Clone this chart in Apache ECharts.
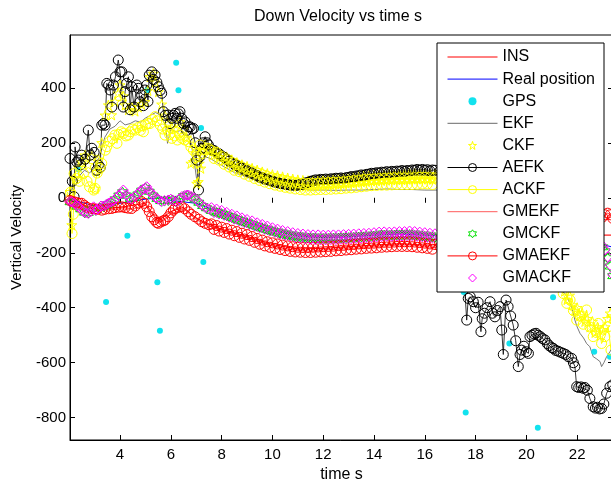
<!DOCTYPE html>
<html>
<head>
<meta charset="utf-8">
<script src="https://cdn.jsdelivr.net/npm/echarts@6/dist/echarts.min.js"></script>
<style>
html,body{margin:0;padding:0;background:#fff;}
#chart{width:611px;height:479px;}
</style>
</head>
<body>
<div id="chart"></div>
<script>
// Tick positions
const xTicks = [4, 6, 8, 10, 12, 14, 16, 18, 20, 22];
const yTicks = [-800, -600, -400, -200, 0, 200, 400];

// Shared time grid for the smooth middle stretch (s)
const timeMid = [
  7.6,7.7,7.8,7.9,
  8.0,8.1,8.2,8.3,8.4,8.5,8.6,8.7,8.8,8.9,
  9.0,9.1,9.2,9.3,9.4,9.5,9.6,9.7,9.8,9.9,
  10.0,10.1,10.2,10.3,10.4,10.5,10.6,10.7,10.8,10.9,
  11.0,11.1,11.2,11.3,11.4,11.5,11.6,11.7,11.8,11.9,
  12.0,12.1,12.2,12.3,12.4,12.5,12.6,12.7,12.8,12.9,
  13.0,13.1,13.2,13.3,13.4,13.5,13.6,13.7,13.8,13.9,
  14.0,14.1,14.2,14.3,14.4,14.5,14.6,14.7,14.8,14.9,
  15.0,15.1,15.2,15.3,15.4,15.5,15.6,15.7,15.8,15.9,
  16.0,16.1,16.2,16.3,16.4
];

// INS
const insPts = [[2.03,-10],[3.0,-40],[4.0,-35],[5.0,-20],[5.5,-85],[6.0,-50],[6.5,-35],[7.0,-75],[8.0,-115],[9.0,-140],[10.0,-170],[11.0,-186],[12.0,-184],[13.0,-178],[14.0,-172],[15.0,-167],[16.0,-172],[17.0,-170],[18.0,-165],[19.0,-160],[20.0,-150],[21.0,-140],[22.0,-136],[23.0,-136],[23.41,-136]];

// Real position
const realPts = [[2.03,-5],[3.0,-30],[4.0,-20],[5.0,-5],[5.6,0],[5.8,-2],[6.0,-10],[7.0,-20],[8.0,-55],[9.0,-88],[10.0,-118],[11.0,-139],[12.0,-145],[13.0,-142],[14.0,-136],[15.0,-132],[16.0,-136],[17.0,-140],[18.0,-145],[19.0,-150],[20.0,-150],[21.0,-155],[22.0,-160],[23.0,-170],[23.41,-180]];

// GPS fixes
const gpsPts = [[2.37,103],[3.45,-379],[4.29,-138],[5.07,391],[5.47,-307],[5.57,-484],[6.21,491],[6.30,391],[7.19,254],[7.28,-234],[17.53,-343],[17.61,-781],[19.33,-530],[20.45,-836],[21.05,-362],[22.67,-560],[23.29,-578]];

// EKF
const ekfPts = [[2.03,10],[2.2,60],[2.4,80],[2.6,100],[2.8,90],[3.0,110],[3.2,150],[3.4,220],[3.6,250],[3.8,260],[4.0,280],[4.2,265],[4.4,270],[4.6,280],[4.8,275],[5.0,290],[5.2,300],[5.4,310],[5.6,300],[5.8,260],[5.87,198],[6.0,250],[6.2,240],[6.4,245],[6.6,230],[6.8,200],[6.95,112],[7.05,45],[7.15,110],[7.3,150],[7.5,145],[7.6,140],[8.0,118],[8.5,92],[9.0,75],[9.5,58],[10.0,48],[10.5,40],[11.0,33],[11.5,28],[12.0,28],[12.5,27],[13.0,28],[13.5,28],[14.0,30],[14.5,32],[15.0,30],[15.5,30],[16.0,28],[16.5,28],[17.0,0],[18.0,-80],[19.0,-180],[20.0,-260],[21.0,-320],[21.52,-348],[21.65,-370],[21.78,-396],[21.91,-445],[22.0,-470],[22.11,-493],[22.25,-510],[22.37,-530],[22.5,-542],[22.63,-578],[22.75,-585],[22.9,-596],[22.96,-614],[23.05,-600],[23.16,-578],[23.29,-560],[23.41,-540]];

// CKF
const ckfEarly = [[2.03,22],[2.1,-99],[2.16,-30],[2.23,70],[2.36,110],[2.49,130],[2.62,155],[2.75,120],[2.89,150],[3.02,34],[3.08,95],[3.15,140],[3.28,200],[3.41,300],[3.54,337],[3.67,301],[3.8,350],[3.93,380],[4.0,410],[4.13,370],[4.2,337],[4.33,320],[4.46,330],[4.59,315],[4.72,330],[4.85,340],[4.98,349],[5.1,390],[5.18,440],[5.31,452],[5.38,420],[5.51,385],[5.64,340],[5.77,300],[5.9,270],[6.04,255],[6.17,250],[6.36,276],[6.5,250],[6.62,220],[6.79,125],[6.89,131],[6.96,180],[7.02,52],[7.08,58],[7.12,125],[7.18,107],[7.25,170],[7.35,192],[7.48,175]];
const ckfMid = [
  178,156,170,149,
  158,135,149,127,138,112,128,106,120,98,
  114,92,107,85,101,78,94,72,88,66,
  84,62,80,58,76,54,72,50,68,46,
  65,44,63,42,62,42,63,43,65,45,
  66,46,68,48,69,50,71,51,72,53,
  74,54,75,56,77,58,79,59,80,61,
  82,62,83,63,84,64,85,65,85,66,
  86,66,87,67,88,68,88,68,88,68,
  88,68,87,67,86
];
const ckfLate = [[16.6,80],[17.0,60],[18.0,-10],[19.0,-110],[20.0,-210],[21.0,-300],[21.5,-340],[21.6,-370],[21.7,-355],[21.8,-390],[21.9,-410],[22.0,-400],[22.1,-430],[22.2,-420],[22.3,-450],[22.4,-440],[22.5,-470],[22.6,-450],[22.7,-490],[22.8,-470],[22.9,-500],[23.0,-480],[23.1,-470],[23.2,-440],[23.3,-420],[23.4,-430]];

// AEFK
const aefkEarly = [[2.03,143],[2.12,60],[2.19,4],[2.23,185],[2.3,130],[2.36,137],[2.45,120],[2.49,155],[2.62,140],[2.75,246],[2.82,155],[2.89,180],[2.98,165],[3.08,100],[3.15,119],[3.22,110],[3.28,264],[3.35,270],[3.41,264],[3.48,416],[3.55,410],[3.61,392],[3.68,330],[3.74,410],[3.82,440],[3.93,501],[4.0,458],[4.07,458],[4.13,330],[4.2,386],[4.26,416],[4.33,440],[4.4,320],[4.46,404],[4.55,330],[4.66,410],[4.72,398],[4.79,349],[4.85,373],[4.92,335],[4.98,392],[5.05,410],[5.1,350],[5.15,446],[5.25,458],[5.31,430],[5.38,446],[5.45,420],[5.51,404],[5.58,390],[5.64,380],[5.71,313],[5.78,300],[5.9,301],[5.97,270],[6.04,289],[6.1,300],[6.17,307],[6.23,289],[6.3,305],[6.36,313],[6.43,289],[6.5,270],[6.56,276],[6.62,245],[6.69,258],[6.76,258],[6.83,250],[6.89,252],[6.96,200],[7.02,137],[7.09,28],[7.15,150],[7.22,180],[7.28,200],[7.35,222],[7.42,200],[7.48,192]];
const aefkMid = [
  175,172,165,160,
  152,147,140,133,128,121,118,111,108,101,
  98,93,90,84,80,75,72,68,66,62,
  60,57,55,52,51,49,48,46,46,45,
  46,48,50,54,56,60,62,65,64,67,
  66,68,66,69,68,71,70,72,70,73,
  74,77,76,79,80,83,82,85,86,89,
  88,91,90,93,92,95,92,96,94,97,
  96,99,96,99,98,101,100,103,100,103,
  100,102,98,101,100
];
const aefkLate = [[16.6,98],[16.8,95],[17.0,60],[17.2,-90],[17.4,-230],[17.55,-300],[17.65,-445],[17.71,-366],[17.79,-360],[17.91,-378],[18.0,-400],[18.1,-380],[18.21,-487],[18.26,-440],[18.35,-420],[18.45,-400],[18.57,-378],[18.66,-420],[18.76,-433],[18.86,-410],[18.96,-396],[19.03,-481],[19.09,-570],[19.2,-372],[19.28,-396],[19.38,-430],[19.48,-463],[19.58,-520],[19.68,-614],[19.75,-570],[19.81,-554],[19.9,-540],[20.0,-560],[20.08,-566],[20.14,-505],[20.22,-500],[20.3,-495],[20.38,-493],[20.46,-500],[20.55,-505],[20.63,-512],[20.73,-517],[20.82,-530],[20.9,-538],[21.0,-545],[21.06,-548],[21.15,-555],[21.25,-558],[21.35,-562],[21.45,-566],[21.55,-570],[21.65,-578],[21.78,-584],[21.85,-600],[21.91,-614],[21.98,-687],[22.06,-690],[22.15,-688],[22.24,-693],[22.3,-690],[22.4,-700],[22.5,-730],[22.63,-760],[22.72,-765],[22.8,-762],[22.88,-768],[22.96,-766],[23.05,-750],[23.16,-711],[23.29,-687],[23.4,-680]];

// ACKF
const ackfEarly = [[2.05,20],[2.11,-130],[2.16,-60],[2.19,88],[2.29,70],[2.4,60],[2.56,88],[2.7,60],[2.8,40],[2.96,28],[3.02,34],[3.1,90],[3.21,107],[3.28,125],[3.42,173],[3.48,186],[3.6,205],[3.7,215],[3.8,228],[3.88,198],[3.95,230],[4.05,240],[4.13,234],[4.23,225],[4.33,228],[4.4,240],[4.5,250],[4.59,246],[4.7,255],[4.8,245],[4.87,262],[4.92,240],[5.0,265],[5.1,270],[5.18,270],[5.28,285],[5.38,295],[5.45,280],[5.58,264],[5.68,250],[5.77,228],[5.87,246],[5.95,230],[6.04,216],[6.15,225],[6.26,210],[6.36,228],[6.45,215],[6.55,210],[6.69,204],[6.79,185],[6.89,173],[7.0,160],[7.08,150],[7.15,192],[7.25,161],[7.35,175],[7.48,180]];
const ackfMid = [
  172,143,165,137,
  150,122,141,112,129,100,120,95,112,86,
  104,78,96,70,90,63,84,57,78,51,
  72,46,68,42,64,38,60,35,57,32,
  54,30,52,28,52,28,52,29,53,30,
  54,30,55,31,56,32,57,33,58,35,
  60,36,62,38,64,40,66,42,67,44,
  68,45,69,46,70,46,71,47,72,48,
  72,48,72,48,72,48,73,49,74,50,
  74,50,73,48,72
];
const ackfLate = [[17.0,50],[18.0,-20],[19.0,-120],[20.0,-220],[21.0,-310],[21.45,-348],[21.59,-384],[21.72,-372],[21.85,-410],[21.98,-445],[22.11,-430],[22.24,-460],[22.37,-408],[22.5,-470],[22.63,-505],[22.75,-490],[22.83,-457],[22.96,-530],[23.09,-505],[23.22,-469],[23.33,-554],[23.45,-520]];

// GMEKF
const gmekfPts = [[2.03,-12],[2.5,-25],[3.0,-45],[3.5,-45],[4.0,-40],[4.5,-42],[5.0,-25],[5.5,-90],[6.0,-60],[6.5,-40],[7.0,-80],[7.5,-102],[8.0,-120],[8.5,-132],[9.0,-146],[9.5,-162],[10.0,-176],[10.5,-186],[11.0,-192],[11.5,-195],[12.0,-190],[12.5,-188],[13.0,-185],[13.5,-182],[14.0,-178],[14.5,-175],[15.0,-172],[15.5,-172],[16.0,-178],[16.5,-182],[17.0,-175],[18.0,-165],[19.0,-160],[20.0,-150],[21.0,-145],[22.0,-140],[23.0,-136],[23.41,-136]];

// GMCKF
const gmckfEarly = [[2.03,-16],[2.15,-18],[2.3,-32],[2.45,-42],[2.6,-54],[2.75,-55],[2.9,-40],[3.05,-46],[3.2,-36],[3.35,-32],[3.5,-24],[3.65,-18],[3.8,-6],[3.95,8],[4.1,20],[4.25,8],[4.4,-4],[4.55,0],[4.7,12],[4.85,26],[5.0,36],[5.15,22],[5.3,8],[5.45,-4],[5.6,-12],[5.75,-12],[5.9,-10],[6.05,-8],[6.2,-14],[6.35,-4],[6.5,6],[6.65,8],[6.8,2],[6.95,-6],[7.1,-18],[7.25,-30],[7.4,-38]];
const gmckfMid = [
  -48,-50,-53,-55,
  -58,-61,-65,-68,-72,-75,-78,-82,-85,-88,
  -91,-94,-97,-101,-104,-107,-110,-113,-116,-119,
  -121,-124,-126,-129,-131,-133,-135,-137,-139,-141,
  -142,-143,-144,-145,-146,-147,-147,-148,-148,-148,
  -148,-148,-148,-147,-147,-147,-147,-146,-146,-145,
  -145,-144,-144,-143,-143,-142,-142,-141,-141,-140,
  -139,-138,-137,-136,-136,-136,-137,-136,-136,-135,
  -135,-135,-135,-134,-134,-135,-136,-137,-138,-139,
  -140,-141,-142,-143,-144
];
const gmckfLate = [[16.6,-144],[17.0,-146],[18.0,-150],[19.0,-154],[20.0,-156],[21.0,-160],[22.0,-165],[22.6,-172],[23.0,-180],[23.1,-195],[23.2,-220],[23.3,-250],[23.4,-285]];

// GMAEKF
const gmaekfEarly = [[2.03,-10],[2.1,-14],[2.2,-15],[2.3,-18],[2.4,-20],[2.49,-20],[2.6,-28],[2.7,-35],[2.88,-39],[3.0,-40],[3.1,-42],[3.28,-45],[3.4,-42],[3.55,-40],[3.67,-39],[3.8,-36],[3.95,-34],[4.07,-33],[4.2,-36],[4.33,-38],[4.46,-39],[4.6,-30],[4.72,-20],[4.85,-14],[4.95,-20],[5.05,-33],[5.15,-50],[5.25,-69],[5.35,-80],[5.45,-90],[5.51,-93],[5.6,-88],[5.7,-84],[5.77,-81],[5.9,-69],[6.0,-55],[6.1,-45],[6.17,-39],[6.3,-35],[6.43,-33],[6.55,-40],[6.69,-51],[6.8,-60],[6.95,-69],[7.1,-78],[7.22,-87],[7.35,-93],[7.5,-98]];
const gmaekfMid = [
  -95,-115,-101,-121,
  -107,-126,-112,-132,-118,-138,-123,-144,-129,-150,
  -134,-155,-141,-162,-148,-169,-154,-175,-160,-180,
  -164,-184,-168,-188,-172,-192,-175,-195,-178,-197,
  -180,-198,-181,-199,-181,-199,-180,-198,-179,-197,
  -178,-196,-177,-195,-176,-193,-174,-192,-173,-190,
  -171,-189,-170,-187,-168,-186,-167,-184,-166,-183,
  -165,-182,-164,-180,-162,-179,-162,-178,-161,-177,
  -160,-177,-160,-177,-160,-178,-161,-180,-163,-182,
  -165,-184,-168,-187,-170
];
const gmaekfLate = [[16.6,-178],[17.0,-176],[18.0,-172],[19.0,-165],[20.0,-152],[21.0,-132],[22.0,-105],[22.6,-85],[23.0,-70],[23.1,-62],[23.2,-56],[23.3,-62],[23.4,-75]];

// GMACKF
const gmackfEarly = [[2.03,-14],[2.1,-14],[2.2,-20],[2.3,-30],[2.36,-33],[2.45,-40],[2.55,-50],[2.65,-55],[2.75,-57],[2.85,-50],[2.96,-33],[3.05,-45],[3.15,-39],[3.25,-30],[3.35,-30],[3.45,-25],[3.54,-20],[3.65,-15],[3.75,-10],[3.85,0],[3.95,10],[4.07,16],[4.13,28],[4.25,10],[4.35,0],[4.45,-5],[4.59,4],[4.7,15],[4.8,25],[4.9,30],[4.98,34],[5.05,40],[5.15,25],[5.25,15],[5.31,10],[5.4,0],[5.5,-5],[5.64,-14],[5.75,-10],[5.9,-8],[6.0,-5],[6.1,-10],[6.23,-14],[6.33,-5],[6.43,4],[6.55,8],[6.63,10],[6.69,10],[6.8,5],[6.95,-2],[7.1,-15],[7.22,-27],[7.35,-35],[7.48,-40]];
const gmackfMid = [
  -36,-54,-41,-59,
  -46,-64,-53,-71,-60,-78,-66,-85,-73,-91,
  -79,-97,-84,-103,-91,-109,-97,-115,-103,-121,
  -109,-126,-114,-132,-119,-136,-123,-140,-127,-144,
  -130,-147,-132,-149,-134,-151,-135,-152,-135,-153,
  -136,-153,-136,-152,-135,-152,-135,-151,-134,-150,
  -133,-149,-132,-148,-131,-147,-130,-146,-129,-145,
  -127,-143,-125,-141,-124,-140,-125,-140,-124,-139,
  -123,-139,-123,-138,-121,-138,-123,-140,-125,-142,
  -127,-144,-129,-146,-131
];
const gmackfLate = [[16.6,-140],[17.0,-142],[18.0,-146],[19.0,-150],[20.0,-152],[21.0,-155],[22.0,-160],[22.6,-168],[23.0,-175],[23.1,-190],[23.2,-215],[23.3,-245],[23.4,-280]];

// ---- assembly ----
function joinTrack(early, mid, late) {
  return early.concat(mid.map((v, i) => [timeMid[i], v]), late);
}

const FONT = '"Liberation Sans", Arial, Helvetica, sans-serif';
const STAR = 'path://M50,0L61.23,34.55L97.55,34.55L68.17,55.9L79.39,90.45L50,69.1L20.61,90.45L31.83,55.9L2.45,34.55L38.77,34.55Z';
const HEXA = 'path://M50,0L64.43,25L93.3,25L78.87,50L93.3,75L64.43,75L50,100L35.57,75L6.7,75L21.13,50L6.7,25L35.57,25Z';
const X_MIN = 2.03, X_MAX = 23.41, Y_MIN = -881, Y_MAX = 592;

function trace(name, data, o) {
  const hasSymbol = !!o.symbol;
  return {
    type: 'line', name: name, data: data,
    xAxisIndex: 0, yAxisIndex: 0,
    symbol: o.symbol || 'none',
    symbolSize: o.size || 10,
    showSymbol: hasSymbol, showAllSymbol: true,
    itemStyle: o.fill
      ? { color: o.fill, borderWidth: 0 }
      : { color: 'rgba(0,0,0,0)', borderColor: o.color, borderWidth: 1 },
    lineStyle: { color: o.color, width: o.width == null ? 0.8 : o.width },
    emphasis: { disabled: true },
    silent: true, animation: false, clip: true
  };
}

const series = [
  trace('INS', insPts, { color: '#ff0000', width: 1 }),
  trace('Real position', realPts, { color: '#0000ff', width: 1 }),
  trace('GPS', gpsPts, { color: '#12e2ee', fill: '#12e2ee', symbol: 'circle', size: 6, width: 0 }),
  trace('EKF', ekfPts, { color: '#6a6a6a', width: 0.9 }),
  trace('CKF', joinTrack(ckfEarly, ckfMid, ckfLate), { color: '#ffff00', symbol: STAR, size: 10, width: 0 }),
  trace('AEFK', joinTrack(aefkEarly, aefkMid, aefkLate), { color: '#000000', symbol: 'circle', size: 10, width: 0.8 }),
  trace('ACKF', joinTrack(ackfEarly, ackfMid, ackfLate), { color: '#ffff00', symbol: 'circle', size: 10, width: 1 }),
  trace('GMEKF', gmekfPts, { color: '#ff5c5c', width: 1 }),
  trace('GMCKF', joinTrack(gmckfEarly, gmckfMid, gmckfLate), { color: '#00e000', symbol: HEXA, size: 10, width: 0 }),
  trace('GMAEKF', joinTrack(gmaekfEarly, gmaekfMid, gmaekfLate), { color: '#ff0000', symbol: 'circle', size: 10, width: 0.8 }),
  trace('GMACKF', joinTrack(gmackfEarly, gmackfMid, gmackfLate), { color: '#ff00ff', symbol: 'diamond', size: 10, width: 0 })
];

const lineOnly = ['INS', 'Real position', 'EKF', 'GMEKF'];
const markerOnly = ['GPS', 'CKF', 'GMCKF', 'GMACKF'];
const legendData = series.map(s => {
  const item = { name: s.name };
  if (lineOnly.indexOf(s.name) >= 0) item.itemStyle = { opacity: 0 };
  if (markerOnly.indexOf(s.name) >= 0) item.lineStyle = { width: 0 };
  return item;
});

const axisText = { color: '#000', fontFamily: FONT, fontSize: 15 };

const option = {
  backgroundColor: '#ffffff',
  animation: false,
  title: {
    text: 'Down Velocity vs time s',
    left: 338, top: 9, padding: 0, textAlign: 'center',
    textStyle: { fontFamily: FONT, fontSize: 16, fontWeight: 'normal', color: '#000' }
  },
  grid: {
    left: 70, top: 35, width: 543, height: 405,
    outerBoundsMode: 'none', containLabel: false,
    show: true, backgroundColor: '#fff', borderColor: '#000', borderWidth: 1
  },
  legend: {
    orient: 'vertical', left: 437, top: 43,
    padding: [6, 9, 6, 10],
    itemWidth: 50, itemHeight: 10, itemGap: 6.1,
    backgroundColor: '#fff', borderColor: '#000', borderWidth: 1,
    selectedMode: false,
    textStyle: { fontFamily: FONT, fontSize: 16, color: '#000', lineHeight: 16 },
    itemStyle: { borderWidth: 1 },
    lineStyle: { width: 1 },
    data: legendData
  },
  xAxis: [
    {
      type: 'value', position: 'bottom', min: X_MIN, max: X_MAX,
      name: 'time s', nameLocation: 'middle', nameGap: 26,
      nameTextStyle: { color: '#000', fontFamily: FONT, fontSize: 16 },
      axisLine: { show: true, onZero: false, lineStyle: { color: '#000', width: 1 } },
      axisTick: { show: true, inside: true, length: 5, customValues: xTicks, lineStyle: { color: '#000' } },
      axisLabel: Object.assign({ customValues: xTicks, margin: 7 }, axisText),
      splitLine: { show: false }
    },
    {
      type: 'value', position: 'top', min: X_MIN, max: X_MAX,
      axisLine: { show: false },
      axisTick: { show: true, inside: true, length: 5, customValues: xTicks, lineStyle: { color: '#000' } },
      axisLabel: { show: false },
      splitLine: { show: false }
    }
  ],
  yAxis: [
    {
      type: 'value', position: 'left', min: Y_MIN, max: Y_MAX,
      name: 'Vertical Velocity', nameLocation: 'middle', nameGap: 46, nameRotate: 90,
      nameTextStyle: { color: '#000', fontFamily: FONT, fontSize: 15 },
      axisLine: { show: true, onZero: false, lineStyle: { color: '#000', width: 1 } },
      axisTick: { show: true, inside: true, length: 5, customValues: yTicks, lineStyle: { color: '#000' } },
      axisLabel: Object.assign({ customValues: yTicks, margin: 4 }, axisText),
      splitLine: { show: false }
    },
    {
      type: 'value', position: 'right', min: Y_MIN, max: Y_MAX,
      axisLine: { show: false },
      axisTick: { show: true, inside: true, length: 5, customValues: yTicks, lineStyle: { color: '#000' } },
      axisLabel: { show: false },
      splitLine: { show: false }
    }
  ],
  series: series
};

const chart = echarts.init(document.getElementById('chart'), null, { renderer: 'canvas' });
chart.setOption(option);
</script>
</body>
</html>
